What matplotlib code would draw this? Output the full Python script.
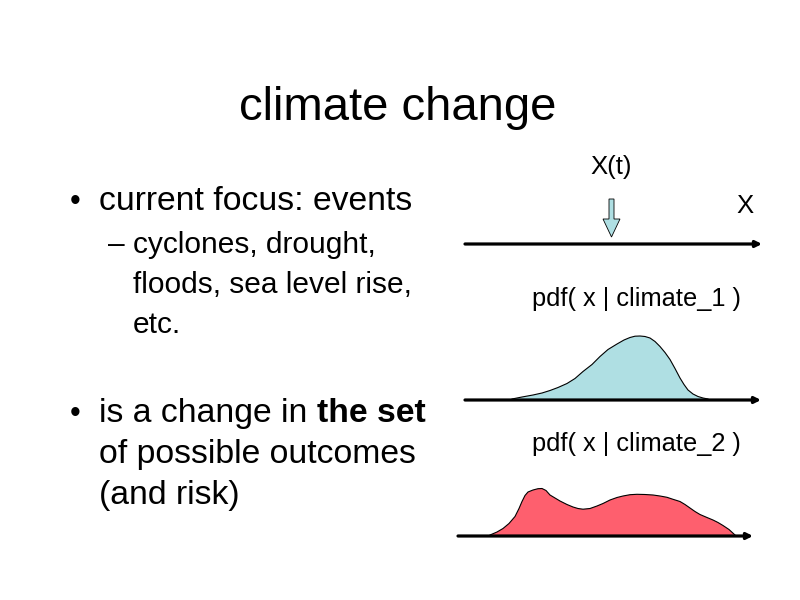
import matplotlib
matplotlib.use('Agg')
from matplotlib import pyplot
from matplotlib.patches import FancyArrow

font = 'Liberation Sans'

title = 'climate change'
bullet_1 = 'current focus: events'
sub_lines = ['cyclones, drought,', 'floods, sea level rise,', 'etc.']
bullet_2_start = 'is a change in '
bullet_2_bold = 'the set'
bullet_2_rest = ['of possible outcomes', '(and risk)']

label_time = 'X(t)'
label_axis = 'X'
label_pdf_1 = 'pdf( x | climate_1 )'
label_pdf_2 = 'pdf( x | climate_2 )'

# density curves: x position along the axis and height above the axis line
pdf_1_x = [512, 522, 533, 542, 550, 558, 567, 575, 583, 592, 600, 608, 617,
           624, 630, 635, 640, 645, 650, 655, 660, 665, 670, 675, 680, 684,
           688, 693, 698, 703, 708]
pdf_1_h = [0.5, 2.5, 4.5, 6.5, 9, 12, 16, 21, 28, 35, 43, 50, 55.5,
           59.5, 62, 63.3, 63.5, 63, 61.5, 58, 53, 47, 40, 31, 21.5, 15,
           9.5, 5.5, 3, 1.5, 0.5]

pdf_2_x = [490, 497, 503, 509, 515, 519, 522, 525, 528, 533, 538, 542, 546,
           550, 555, 560, 567, 573, 578, 583, 590, 597, 603, 610, 617, 623,
           630, 637, 645, 653, 660, 667, 673, 680, 685, 690, 695, 700, 707,
           713, 718, 723, 729, 735]
pdf_2_h = [0.5, 3.5, 7, 12, 19, 27, 34, 40, 43.5, 45.5, 46.8, 47, 45,
           40.5, 37.5, 34.5, 31, 28.5, 27, 26.3, 27, 29.5, 32, 35.5, 38, 39.5,
           40.8, 41.2, 41, 40.5, 39.5, 38.2, 36.2, 34, 31, 27.5, 24, 21, 18,
           15.5, 13, 10, 6, 0.5]

blue = '#afdfe3'
red = '#fe5f6e'


def draw_axis_line(ax, x0, x1, y):
    """Helper - black horizontal axis with a small arrow head"""
    ax.annotate('', xy=(x1, y), xytext=(x0, y),
                arrowprops=dict(arrowstyle='-|>', lw=2.3, color='black',
                                mutation_scale=9, shrinkA=0, shrinkB=0))


def draw_pdf(ax, xs, hs, base, colour):
    """Helper - filled density sitting on an axis line"""
    ys = [base - h for h in hs]
    ax.fill(xs, ys, facecolor=colour, edgecolor='none', zorder=2)
    ax.plot(xs, ys, color='black', lw=0.8, zorder=3)


fig = pyplot.figure(figsize=(8, 6), dpi=100)
ax = fig.add_axes([0, 0, 1, 1])
ax.set_xlim(0, 800)
ax.set_ylim(600, 0)
ax.axis('off')

# Title
ax.text(398, 120, title, ha='center', va='baseline', size=34, family=font)

# Left column bullets
ax.text(75, 210, '\u2022', ha='center', va='baseline', size=22, family=font)
ax.text(99, 210, bullet_1, ha='left', va='baseline', size=24.3, family=font)

ax.text(108, 253, '\u2013', ha='left', va='baseline', size=21.5, family=font)
for i, line in enumerate(sub_lines):
    ax.text(133, 253 + 40 * i, line, ha='left', va='baseline', size=21.5,
            family=font)

ax.text(75, 422, '\u2022', ha='center', va='baseline', size=22, family=font)
t1 = ax.text(99, 422, bullet_2_start, ha='left', va='baseline', size=24.3,
             family=font)
ax.annotate(bullet_2_bold, xy=(1, 0), xycoords=t1, ha='left', va='bottom',
            size=24.3, family=font, weight='bold')
for i, line in enumerate(bullet_2_rest):
    ax.text(99, 463 + 41 * i, line, ha='left', va='baseline', size=24.3,
            family=font)

# Right column: current state on the axis
ax.text(611, 174, label_time, ha='center', va='baseline', size=18.5,
        family=font)
ax.text(745, 213, label_axis, ha='center', va='baseline', size=18.5,
        family=font)
ax.add_patch(FancyArrow(611.5, 199, 0, 38, width=5, head_width=17,
                        head_length=18, length_includes_head=True,
                        facecolor=blue, edgecolor='black', lw=0.6))
draw_axis_line(ax, 465, 762, 244)

# pdf under climate 1
ax.text(532, 306, label_pdf_1, ha='left', va='baseline', size=18.3,
        family=font)
draw_pdf(ax, pdf_1_x, pdf_1_h, 399.5, blue)
draw_axis_line(ax, 465, 761, 400)

# pdf under climate 2
ax.text(532, 451, label_pdf_2, ha='left', va='baseline', size=18.3,
        family=font)
draw_pdf(ax, pdf_2_x, pdf_2_h, 535.5, red)
draw_axis_line(ax, 458, 753, 536)

fig.savefig('out.png', dpi=100)
